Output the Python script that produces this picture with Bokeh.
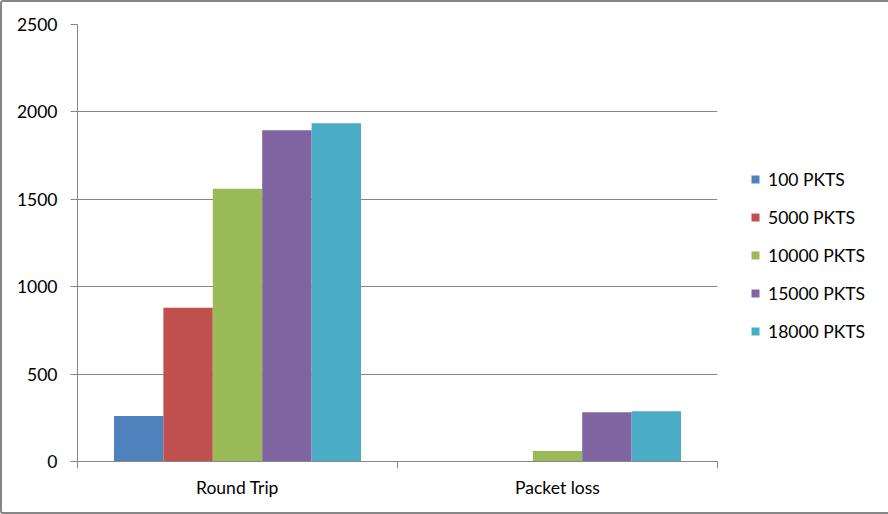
from bokeh.plotting import figure
from bokeh.models import (ColumnDataSource, FactorRange, Range1d,
                          FixedTicker, Legend, LegendItem, CategoricalAxis)
from bokeh.transform import dodge
from bokeh.embed import file_html
from bokeh.resources import INLINE

# ---- data ----
categories = ["Round Trip", "Packet loss"]
series_names = ["100 PKTS", "5000 PKTS", "10000 PKTS", "15000 PKTS", "18000 PKTS"]
pkts_100 = [260, 0]
pkts_5000 = [880, 0]
pkts_10000 = [1560, 60]
pkts_15000 = [1895, 282]
pkts_18000 = [1935, 288]
y_ticks = [0, 500, 1000, 1500, 2000, 2500]

series_values = [pkts_100, pkts_5000, pkts_10000, pkts_15000, pkts_18000]
colors = ["#4F81BD", "#C0504D", "#9BBB59", "#8064A2", "#4BACC6"]

FONT = "Lato"
FSIZE = "17.5px"
GRAY = "#868686"

source = ColumnDataSource(dict(cat=categories,
                               **{f"s{i}": v for i, v in enumerate(series_values)}))

p = figure(frame_width=640, frame_height=437, output_backend="svg", toolbar_location=None,
           x_range=FactorRange(factors=categories, range_padding=0),
           y_range=Range1d(0, 2500),
           min_border_left=75, min_border_right=169, min_border_top=22,
           min_border_bottom=51, x_axis_location=None, y_axis_location="left",
           styles={"border": "2px solid #868686", "border-radius": "3px"})
p.outline_line_color = None
p.background_fill_color = "white"
p.border_fill_color = "white"
p.xgrid.visible = False
p.ygrid.grid_line_color = GRAY
p.ygrid.ticker = FixedTicker(ticks=y_ticks)

bar_w = 0.1544
renderers = []
for i, (name, col) in enumerate(zip(series_names, colors)):
    r = p.vbar(x=dodge("cat", (i - 2) * bar_w, range=p.x_range), top=f"s{i}",
               width=bar_w, source=source, fill_color=col, line_color=None)
    renderers.append((name, r))

# y axis
ya = p.yaxis[0]
ya.ticker = FixedTicker(ticks=y_ticks)
ya.axis_line_color = GRAY
ya.major_tick_line_color = GRAY
ya.major_tick_out = 7
ya.major_tick_in = 0
ya.minor_tick_line_color = None
ya.major_label_standoff = 13
ya.major_label_text_font = FONT
ya.major_label_text_font_size = FSIZE
ya.major_label_text_color = "#000000"

# edge-tick axis (category boundaries): a blank categorical range whose
# factor centres fall on the boundaries of the main categories
p.extra_x_ranges = {"edges": FactorRange(factors=[" ", "  ", "   "],
                                         range_padding=-0.4985,
                                         range_padding_units="absolute")}
ea = CategoricalAxis(x_range_name="edges")
ea.axis_line_color = GRAY
ea.major_tick_line_color = GRAY
ea.major_tick_out = 7
ea.major_tick_in = 0
ea.major_label_standoff = 0
ea.major_label_text_font_size = "1px"
p.add_layout(ea, "below")

# category label axis
ca = CategoricalAxis()
ca.axis_line_color = None
ca.major_tick_line_color = None
ca.major_label_standoff = -2
ca.major_label_text_font = FONT
ca.major_label_text_font_size = FSIZE
ca.major_label_text_color = "#000000"
p.add_layout(ca, "below")

legend = Legend(items=[LegendItem(label=n, renderers=[r]) for n, r in renderers],
                location=(33, 119.5), orientation="vertical",
                glyph_width=10, glyph_height=10, label_height=20,
                label_standoff=8, spacing=17, padding=0, margin=0,
                border_line_color=None, background_fill_alpha=0,
                label_text_font=FONT, label_text_font_size=FSIZE,
                label_text_color="#000000")
p.add_layout(legend, "right")

open("out.html", "w").write(file_html(p, INLINE))
